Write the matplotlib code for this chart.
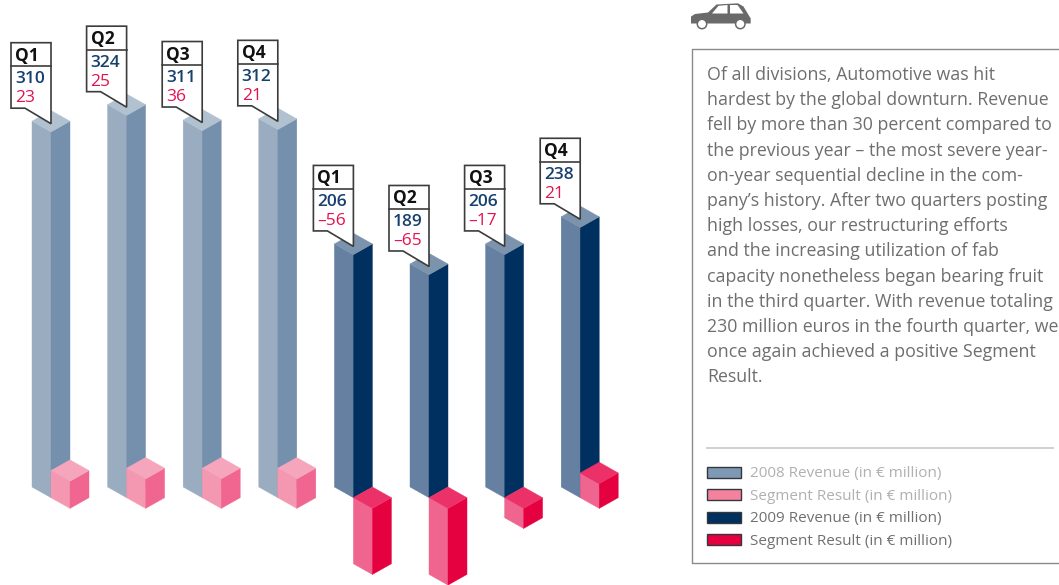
import matplotlib
matplotlib.use('Agg')
import matplotlib.pyplot as plt
from matplotlib.patches import Circle, Polygon, Rectangle

quarters = ['Q1', 'Q2', 'Q3', 'Q4']

# printed numbers
revenue_2008 = [310, 324, 311, 312]
result_2008 = [23, 25, 36, 21]
revenue_2009 = [206, 189, 206, 238]
result_2009 = [-56, -65, -17, 21]

# block heights as drawn, they differ from the printed number in a few places
drawn_rev_2008 = [310, 324, 311, 312]
drawn_res_2008 = [23, 25, 25, 25]
drawn_rev_2009 = [206, 189, 206, 229]
drawn_res_2009 = [-56, -65, -17, 21]

body_lines = [
    'Of all divisions, Automotive was hit',
    'hardest by the global downturn. Revenue',
    'fell by more than 30 percent compared to',
    'the previous year – the most severe year-',
    'on-year sequential decline in the com-',
    'pany’s history. After two quarters posting',
    'high losses, our restructuring efforts',
    'and the increasing utilization of fab',
    'capacity nonetheless began bearing fruit',
    'in the third quarter. With revenue totaling',
    '230 million euros in the fourth quarter, we',
    'once again achieved a positive Segment',
    'Result.',
]

legend_labels = ['2008 Revenue (in € million)', 'Segment Result (in € million)',
                 '2009 Revenue (in € million)', 'Segment Result (in € million)']
legend_fill = ['#7f98b3', '#f4829f', '#00305f', '#e5003f']
legend_text = ['#b0b0b0', '#b0b0b0', '#707070', '#707070']

# left, right, top face
blue_light = ['#9aacbf', '#7590ac', '#b1c1d0']
pink_light = ['#f498b1', '#f06690', '#f5a6bd']
blue_dark = ['#6580a0', '#00305f', '#7c93ae']
pink_dark = ['#f06590', '#e5003f', '#ec3068']

NAVY = '#17406f'
RED = '#e5104f'
FONT = 'Open Sans'

SLOT = 75.6
PX_PER_M = 1.18
W = 19 / SLOT
D = 10.7 / PX_PER_M

fig = plt.figure(figsize=(10.59, 5.85), dpi=100)

# slots on x, million euros on y
ax = fig.add_axes([0, 0, 1, 1])
ax.set_xlim(-32 / SLOT, (1059 - 32) / SLOT)
ax.set_ylim(-98 / PX_PER_M, 487 / PX_PER_M)
ax.axis('off')

# plain pixels for callouts and the text panel
px = fig.add_axes([0, 0, 1, 1])
px.set_xlim(0, 1059)
px.set_ylim(585, 0)
px.axis('off')
px.patch.set_alpha(0)


def box(x, lo, hi, colors, z):
    faces = [
        [(x, lo), (x + W, lo - D), (x + W, hi - D), (x, hi)],
        [(x + W, lo - D), (x + 2 * W, lo), (x + 2 * W, hi), (x + W, hi - D)],
        [(x, hi), (x + W, hi + D), (x + 2 * W, hi), (x + W, hi - D)],
    ]
    for pts, c in zip(faces, colors):
        ax.fill(*zip(*pts), color=c, lw=0.3, zorder=z)


def callout(i, height, quarter, rev, res):
    tip = ax.transData.transform((i + W, height))
    tx, ty = px.transData.inverted().transform(tip)
    ty += 2.5
    l, b, t = tx - 40, ty - 15.5, ty - 81
    pts = [(l, t), (tx, t), (tx, ty), (l + 14, b), (l, b)]
    px.add_patch(Polygon(pts, closed=True, fc='white', ec='#3c3c3c', lw=1.2, zorder=5))
    px.plot([l, tx], [t + 23.5, t + 23.5], color='#3c3c3c', lw=1.2, zorder=6)
    px.text(l + 4, t + 13, quarter, fontsize=12.5, fontweight='bold', color='#111111',
            family=FONT, va='center', zorder=7)
    px.text(l + 4, t + 36.5, str(rev), fontsize=12.5, fontweight='semibold', color=NAVY,
            family=FONT, va='center', zorder=7)
    px.text(l + 4, t + 55.5, str(res).replace('-', '–'), fontsize=12.5, color=RED,
            family=FONT, va='center', zorder=7)


for i in range(4):
    box(i, 0, drawn_rev_2008[i], blue_light, 2)
    v = drawn_res_2008[i]
    box(i + W, min(v, 0) - D, max(v, 0) - D, pink_light, 3)
    callout(i, drawn_rev_2008[i], quarters[i], revenue_2008[i], result_2008[i])

for i in range(4):
    j = i + 4
    box(j, 0, drawn_rev_2009[i], blue_dark, 2)
    v = drawn_res_2009[i]
    box(j + W, min(v, 0) - D, max(v, 0) - D, pink_dark, 3)
    callout(j, drawn_rev_2009[i], quarters[i], revenue_2009[i], result_2009[i])

# text panel, open on the right
px.plot([1059, 691.5, 691.5, 1059], [48.5, 48.5, 563, 563], color='#8a8a8a', lw=1)
for n, line in enumerate(body_lines):
    px.text(707, 75 + n * 25.2, line, fontsize=12.75, color='#6e6e6e', family=FONT, va='center')

px.plot([707, 1053], [447.5, 447.5], color='#c8c8c8', lw=1.2)
for n, label in enumerate(legend_labels):
    y = 472.5 + n * 22.4
    px.add_patch(Rectangle((707, y - 5.5), 34, 11, fc=legend_fill[n], ec='#33383f', lw=1))
    px.text(750, y + 1.5, label, fontsize=11, color=legend_text[n], family=FONT, va='center')

# car icon
car = [(691, 23.5), (691, 16.5), (695, 14), (708, 12.5), (716.5, 4.5), (738, 3.3),
       (743.5, 6.5), (750.7, 18.5), (750.7, 23.5)]
px.add_patch(Polygon(car, closed=True, fc='#6a6a6a', ec='none'))
px.add_patch(Polygon([(712, 13.5), (718.5, 5.8), (727.5, 5), (727.5, 13.5)], closed=True, fc='white', ec='none'))
px.add_patch(Polygon([(730, 5), (737.5, 5), (743.5, 13.5), (730, 13.5)], closed=True, fc='white', ec='none'))
for cx in [702, 740.3]:
    px.add_patch(Circle((cx, 24), 4.7, fc='white', ec='#6a6a6a', lw=1.1))

plt.savefig('out.png', dpi=100)
